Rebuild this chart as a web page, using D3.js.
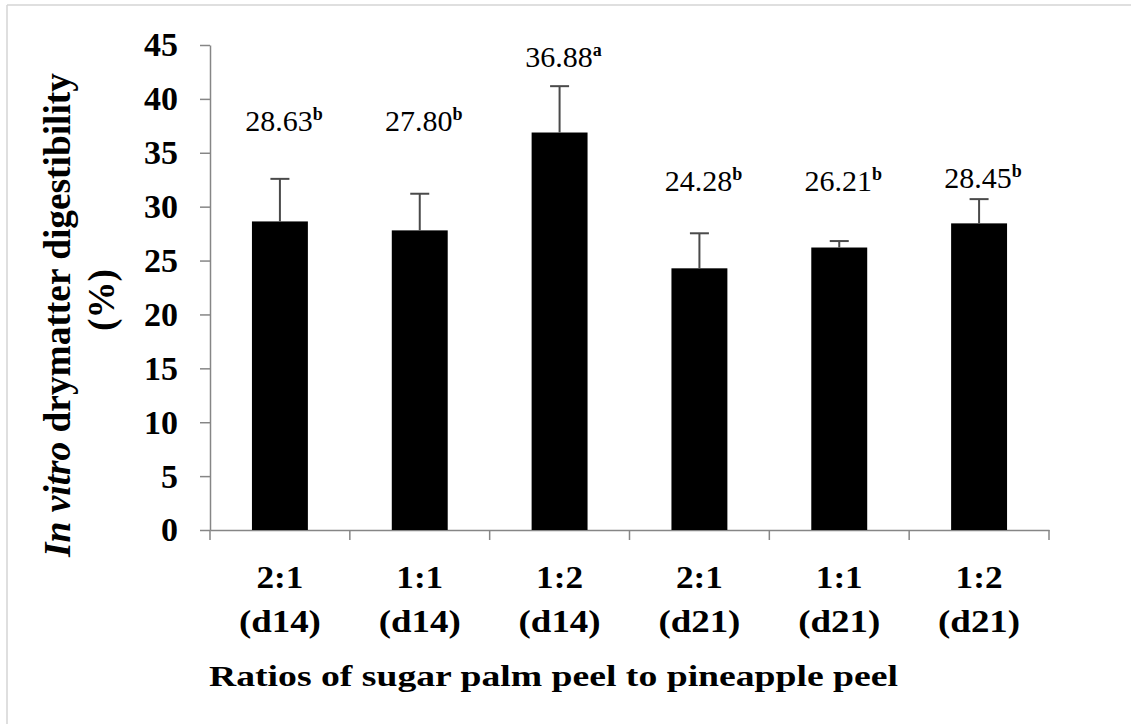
<!DOCTYPE html>
<html>
<head>
<meta charset="utf-8">
<script src="https://cdn.jsdelivr.net/npm/d3@7"></script>
<style>
  html, body { margin: 0; padding: 0; background: #fff; }
  svg { display: block; }
  text { font-family: "Liberation Serif", "Times New Roman", serif; fill: #000; }
</style>
</head>
<body>
<svg id="chart" width="1131" height="724"></svg>
<script>
// ---- data ----
const ratios = ["2:1", "1:1", "1:2", "2:1", "1:1", "1:2"];
const days = ["(d14)", "(d14)", "(d14)", "(d21)", "(d21)", "(d21)"];
const values = [28.63, 27.80, 36.88, 24.28, 26.21, 28.45];
const errors = [3.95, 3.40, 4.30, 3.25, 0.60, 2.25];
const letters = ["b", "b", "a", "b", "b", "b"];
const labelLevels = [37.0, 37.0, 42.95, 31.45, 31.45, 31.7]; // value-label baseline, in data units
const yTicks = [0, 5, 10, 15, 20, 25, 30, 35, 40, 45];
const xTitle = "Ratios of sugar palm peel to pineapple peel";
const yTitleItalic = "In vitro";
const yTitleRest = " drymatter digestibility";
const yTitleLine2 = "(%)";

(function () {
// ---- layout ----
const svg = d3.select("#chart");
const mLeft = 210, mRight = 1049, mTop = 45, mBottom = 530;
const keys = values.map((d, i) => i);

const x = d3.scaleBand().domain(keys).range([mLeft, mRight])
  .paddingInner(0.6).paddingOuter(0.3);
const step = x.step();
const y = d3.scaleLinear().domain([0, 45]).range([mBottom, mTop]);

// frame (top + left edges of the original picture)
svg.append("line").attr("x1", 7).attr("x2", 1131).attr("y1", 5).attr("y2", 5)
  .attr("stroke", "#d4d4d4").attr("stroke-width", 1.5);
svg.append("line").attr("x1", 7).attr("x2", 7).attr("y1", 5).attr("y2", 724)
  .attr("stroke", "#d4d4d4").attr("stroke-width", 1.5);

// y axis
const yAxis = svg.append("g").attr("transform", `translate(${mLeft},0)`)
  .call(d3.axisLeft(y).tickValues(yTicks).tickSize(10).tickSizeOuter(0).tickPadding(22));
yAxis.selectAll("path, line").attr("stroke", "#868686").attr("stroke-width", 1.5);
yAxis.selectAll("text").attr("font-family", "Liberation Serif")
  .attr("font-size", 34).attr("font-weight", "bold").attr("fill", "#000");

// x axis (domain line)
const xAxis = svg.append("g").attr("transform", `translate(0,${mBottom})`)
  .call(d3.axisBottom(x).tickSize(0).tickSizeOuter(0).tickFormat(""));
xAxis.selectAll("path").attr("stroke", "#868686").attr("stroke-width", 1.5);
// boundary ticks
const bounds = keys.map(k => x(k) + x.bandwidth() / 2 - step / 2)
  .concat([x(keys[keys.length - 1]) + x.bandwidth() / 2 + step / 2]);
svg.append("g").selectAll("line").data(bounds).join("line")
  .attr("x1", d => d).attr("x2", d => d)
  .attr("y1", mBottom).attr("y2", mBottom + 10)
  .attr("stroke", "#868686").attr("stroke-width", 1.5);

// bars
svg.append("g").selectAll("rect").data(values).join("rect")
  .attr("x", (d, i) => x(i)).attr("width", x.bandwidth())
  .attr("y", d => y(d)).attr("height", d => y(0) - y(d))
  .attr("fill", "#000");

// error bars (upper only)
const eg = svg.append("g").attr("stroke", "#4a4a4a").attr("stroke-width", 2);
values.forEach((v, i) => {
  const cx = x(i) + x.bandwidth() / 2;
  eg.append("line").attr("x1", cx).attr("x2", cx).attr("y1", y(v)).attr("y2", y(v + errors[i]));
  eg.append("line").attr("x1", cx - 9.5).attr("x2", cx + 9.5)
    .attr("y1", y(v + errors[i])).attr("y2", y(v + errors[i]));
});

// value labels with superscript letters
values.forEach((v, i) => {
  const cx = x(i) + x.bandwidth() / 2 + 4;
  const t = svg.append("text").attr("x", cx).attr("y", y(labelLevels[i]))
    .attr("text-anchor", "middle").attr("font-size", 30);
  t.append("tspan").text(v.toFixed(2));
  t.append("tspan").attr("font-size", 18).attr("font-weight", "bold")
    .attr("dy", -11).text(letters[i]);
});

// category labels
keys.forEach(i => {
  const cx = x(i) + x.bandwidth() / 2;
  svg.append("text").attr("x", cx).attr("y", 588).attr("text-anchor", "middle")
    .attr("font-size", 32).attr("font-weight", "bold")
    .attr("textLength", 47).attr("lengthAdjust", "spacingAndGlyphs").text(ratios[i]);
  svg.append("text").attr("x", cx).attr("y", 632).attr("text-anchor", "middle")
    .attr("font-size", 32).attr("font-weight", "bold")
    .attr("textLength", 82).attr("lengthAdjust", "spacingAndGlyphs").text(days[i]);
});

// x title
svg.append("text").attr("x", 209).attr("y", 686)
  .attr("font-size", 30).attr("font-weight", "bold")
  .attr("textLength", 689).attr("lengthAdjust", "spacingAndGlyphs").text(xTitle);

// y title
const yt = svg.append("text").attr("transform", "translate(70,315) rotate(-90)")
  .attr("text-anchor", "middle").attr("font-size", 37).attr("font-weight", "bold")
  .attr("textLength", 484).attr("lengthAdjust", "spacingAndGlyphs");
yt.append("tspan").attr("font-style", "italic").text(yTitleItalic);
yt.append("tspan").text(yTitleRest);
svg.append("text").attr("transform", "translate(114,300) rotate(-90)")
  .attr("text-anchor", "middle").attr("font-size", 37).attr("font-weight", "bold")
  .text(yTitleLine2);
})();
</script>
</body>
</html>
